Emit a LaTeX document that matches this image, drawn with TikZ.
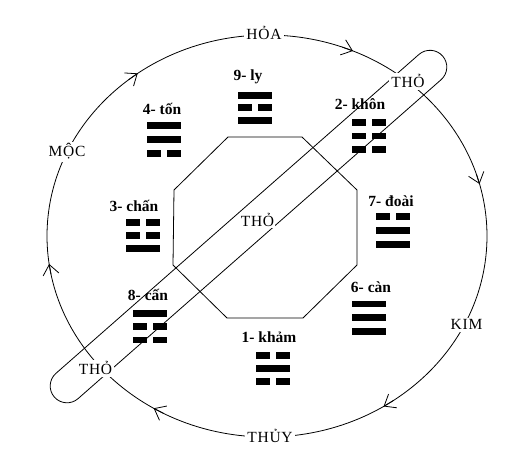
\documentclass[tikz,border=0pt]{standalone}
\usepackage{fontspec}
\setmainfont{Liberation Serif}
\newfontfamily\ringfont[LetterSpace=5]{Liberation Serif}
\usetikzlibrary{arrows.meta}
\tikzset{
  pics/yang/.style={code={\fill (-17,-3.4) rectangle (17,3.4);}},
  pics/yin/.style={code={\fill (-17,-3.4) rectangle (-3,3.4); \fill (3,-3.4) rectangle (17,3.4);}},
  pics/trigram/.style n args={4}{code={
    \pic at (0,-#4) {#1}; \pic at (0,0) {#2}; \pic at (0,#4) {#3};
  }},
  thinline/.style={line width=0.8pt},
  arr/.style={thinline,-{Straight Barb[length=10pt,width=16pt,line width=0.8pt]}},
  ring/.style={font=\ringfont\fontsize{15.5}{18}\selectfont, fill=white, inner sep=2pt, anchor=base},
  guaname/.style={font=\fontsize{15.5}{18}\selectfont\bfseries, inner sep=0pt, anchor=base},
}
\begin{document}
\begin{tikzpicture}[x=1pt,y=-1pt]
\fill[white] (0,0) rectangle (523,470);
\useasboundingbox (0,0) rectangle (523,470);
% big cycle
\coordinate (C) at (267,236);
\draw[thinline] (C) ellipse [x radius=220, y radius=201];
\foreach \a in {58,121,172,234,293,345}
  \draw[arr] ({267+220*cos(\a-3)},{236+201*sin(\a-3)}) -- ({267+220*cos(\a)},{236+201*sin(\a)});
% capsule
\begin{scope}[shift={(67,386)}, rotate=41.3]
  \draw[thinline, rounded corners=16.8pt] (-16.8,-16.8) rectangle (500,16.8);
\end{scope}
% octagon
\draw[thinline] (228,137) -- (302,137) -- (357,190) -- (357,265) -- (303,318) -- (227,318) -- (173,265) -- (174,190) -- cycle;
% trigrams
\pic at (255,107.7) {trigram={yang}{yin}{yang}{12.5}};
\pic at (164,139.3) {trigram={yang}{yang}{yin}{14}};
\pic at (368.7,136) {trigram={yin}{yin}{yin}{13.5}};
\pic at (143,235.5) {trigram={yin}{yin}{yang}{13}};
\pic at (149.7,326.7) {trigram={yang}{yin}{yin}{13.3}};
\pic at (393,230.3) {trigram={yin}{yang}{yang}{14}};
\pic at (369,317.8) {trigram={yang}{yang}{yang}{13.7}};
\pic at (273,368.7) {trigram={yin}{yang}{yin}{13}};
% trigram names
\node[guaname] (ly) at (248,81) {9- ly};
\node[guaname] (ton) at (162,115) {4- tốn};
\node[guaname] (khon) at (360,110) {2- khôn};
\node[guaname] (chan) at (134,212) {3- chấn};
\node[guaname] (can8) at (148,300.7) {8- cấn};
\node[guaname] (doai) at (391,206.7) {7- đoài};
\node[guaname] (can6) at (371,293) {6- càn};
\node[guaname] (kham) at (269,343) {1- khảm};
% element labels
\node[ring] (hoa) at (264,39.5) {HỎA};
\node[ring] (tho1) at (408,88) {THỎ};
\node[ring] (moc) at (67,157) {MỘC};
\node[ring] (kim) at (466.5,330) {KIM};
\node[ring] (thuy) at (270,443) {THỦY};
\node[ring] (tho2) at (95.5,375) {THỎ};
\node[ring, inner sep=1pt] (tho3) at (257.5,226.7) {THỎ};
\end{tikzpicture}
\end{document}
